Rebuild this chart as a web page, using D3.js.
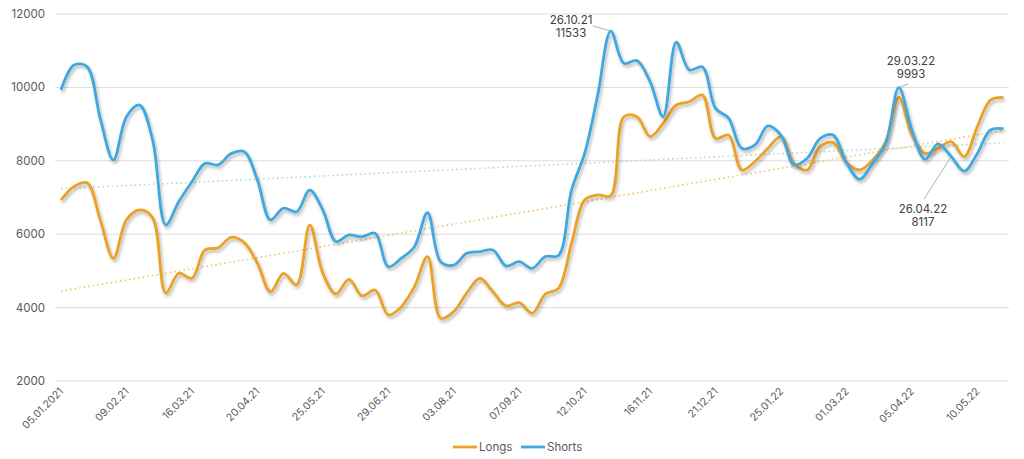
<!DOCTYPE html>
<html>
<head>
<meta charset="utf-8">
<script src="https://cdn.jsdelivr.net/npm/d3@7"></script>
<style>
  body { margin: 0; background: #fff; }
  svg { display: block; font-family: Inter, "Noto Sans", sans-serif; }
</style>
</head>
<body>
<svg id="chart" width="1024" height="459"></svg>
<script>
// weekly values, 05.01.2021 .. 24.05.22
var longs = [6930, 7300, 7400, 6390, 5340, 6390, 6660, 6450, 4400, 4935, 4800, 5570,
  5630, 5915, 5770, 5210, 4430, 4935, 4620, 6250, 4935, 4370, 4770, 4320,
  4480, 3800, 4025, 4570, 5390, 3710, 3890, 4400, 4800, 4430, 4045, 4135,
  3845, 4370, 4525, 5750, 6930, 7070, 7050, 9200, 9200, 8660, 9020, 9520,
  9610, 9790, 8610, 8700, 7750, 7975, 8340, 8660, 7930, 7750, 8385, 8495,
  7950, 7750, 8020, 8520, 9730, 8700, 8200, 8340, 8520, 8115, 8930, 9655, 9730];

var shorts = [9930, 10610, 10560, 9150, 8020, 9200, 9520, 8570, 6250, 6890, 7430, 7930,
  7890, 8200, 8250, 7480, 6390, 6710, 6610, 7200, 6660, 5800, 5980, 5930,
  6025, 5115, 5345, 5660, 6590, 5250, 5160, 5480, 5525, 5570, 5135, 5250,
  5070, 5390, 5420, 7200, 8200, 9790, 11533, 10660, 10730, 10160, 9200, 11230,
  10475, 10560, 9430, 9160, 8340, 8430, 8950, 8700, 7890, 8070, 8610, 8700,
  7950, 7495, 7930, 8480, 9993, 8840, 8040, 8460, 8117, 7720, 8200, 8840, 8875];

var tickLabels = ["05.01.2021", "09.02.21", "16.03.21", "20.04.21", "25.05.21", "29.06.21",
  "03.08.21", "07.09.21", "12.10.21", "16.11.21", "21.12.21", "25.01.22", "01.03.22",
  "05.04.22", "10.05.22"];
var tickIndex = [0, 5, 10, 15, 20, 25, 30, 35, 40, 45, 50, 55, 60, 65, 70];

var yTicks = [2000, 4000, 6000, 8000, 10000, 12000];

var notes = [
  { idx: 42, date: "26.10.21", value: 11533, tx: 571, ty: 20, lx1: 593, ly1: 26 },
  { idx: 64, date: "29.03.22", value: 9993, tx: 911, ty: 61, lx1: 908, ly1: 84 },
  { idx: 68, date: "26.04.22", value: 8117, tx: 923, ty: 209, lx1: 924, ly1: 199 }
];

var orange = "#eba126", blue = "#40a8df";

var svg = d3.select("#chart");

var x = d3.scaleLinear().domain([0, longs.length - 1]).range([61, 1003.5]);
var y = d3.scaleLinear().domain([2000, 12000]).range([381, 14]);

// shadow
var defs = svg.append("defs");
var f = defs.append("filter").attr("id", "shadow")
  .attr("x", "-5%").attr("y", "-5%").attr("width", "110%").attr("height", "120%");
f.append("feDropShadow").attr("dx", 1.5).attr("dy", 2.5)
  .attr("stdDeviation", 1.6).attr("flood-color", "#000").attr("flood-opacity", 0.28);

// grid
svg.append("g").selectAll("line").data(yTicks).join("line")
  .attr("x1", 55).attr("x2", 1009)
  .attr("y1", d => y(d)).attr("y2", d => y(d))
  .attr("stroke", "#dcdcdc").attr("stroke-width", 1);

svg.append("g").selectAll("text").data(yTicks).join("text")
  .attr("x", 45).attr("y", d => y(d) + 4)
  .attr("text-anchor", "end")
  .attr("font-size", 11.5).attr("fill", "#595959")
  .text(d => d);

// x labels
svg.append("g").selectAll("text").data(tickIndex).join("text")
  .attr("transform", (d, i) => "translate(" + (x(d) + 3) + ",392) rotate(-45)")
  .attr("text-anchor", "end")
  .attr("font-size", 10.5).attr("fill", "#595959")
  .text((d, i) => tickLabels[i]);

// linear trends
function trend(vals) {
  var n = vals.length, sx = 0, sy = 0, sxy = 0, sxx = 0;
  vals.forEach(function (v, i) { sx += i; sy += v; sxy += i * v; sxx += i * i; });
  var b = (n * sxy - sx * sy) / (n * sxx - sx * sx);
  var a = (sy - b * sx) / n;
  return [[0, a], [n - 1, a + b * (n - 1)]];
}

var tl = d3.line().x(d => x(d[0])).y(d => y(d[1]));
svg.append("path").attr("d", tl(trend(shorts)))
  .attr("fill", "none").attr("stroke", "#a9dde3").attr("stroke-width", 1.6)
  .attr("stroke-dasharray", "1.6,3");
svg.append("path").attr("d", tl(trend(longs)))
  .attr("fill", "none").attr("stroke", "#f3c46f").attr("stroke-width", 1.6)
  .attr("stroke-dasharray", "1.6,3");

// series
var line = d3.line().x((d, i) => x(i)).y(d => y(d)).curve(d3.curveCatmullRom.alpha(0.5));

svg.append("path").attr("d", line(longs))
  .attr("fill", "none").attr("stroke", orange).attr("stroke-width", 2.8)
  .attr("filter", "url(#shadow)");
svg.append("path").attr("d", line(shorts))
  .attr("fill", "none").attr("stroke", blue).attr("stroke-width", 2.8)
  .attr("filter", "url(#shadow)");

// annotations
var ann = svg.append("g");
notes.forEach(function (n) {
  ann.append("line")
    .attr("x1", n.lx1).attr("y1", n.ly1)
    .attr("x2", x(n.idx)).attr("y2", y(n.value))
    .attr("stroke", "#9a9a9a").attr("stroke-width", 0.8);
  ann.append("text").attr("x", n.tx).attr("y", n.ty + 4)
    .attr("text-anchor", "middle").attr("font-size", 11.5).attr("fill", "#404040")
    .text(n.date);
  ann.append("text").attr("x", n.tx).attr("y", n.ty + 17)
    .attr("text-anchor", "middle").attr("font-size", 11.5).attr("fill", "#404040")
    .text(n.value);
});

// legend
var legend = [["Longs", orange, 453], ["Shorts", blue, 521]];
var lg = svg.append("g");
legend.forEach(function (l) {
  lg.append("line").attr("x1", l[2]).attr("x2", l[2] + 24)
    .attr("y1", 447).attr("y2", 447)
    .attr("stroke", l[1]).attr("stroke-width", 2.8);
  lg.append("text").attr("x", l[2] + 26).attr("y", 451)
    .attr("font-size", 11.5).attr("fill", "#595959").text(l[0]);
});
</script>
</body>
</html>
